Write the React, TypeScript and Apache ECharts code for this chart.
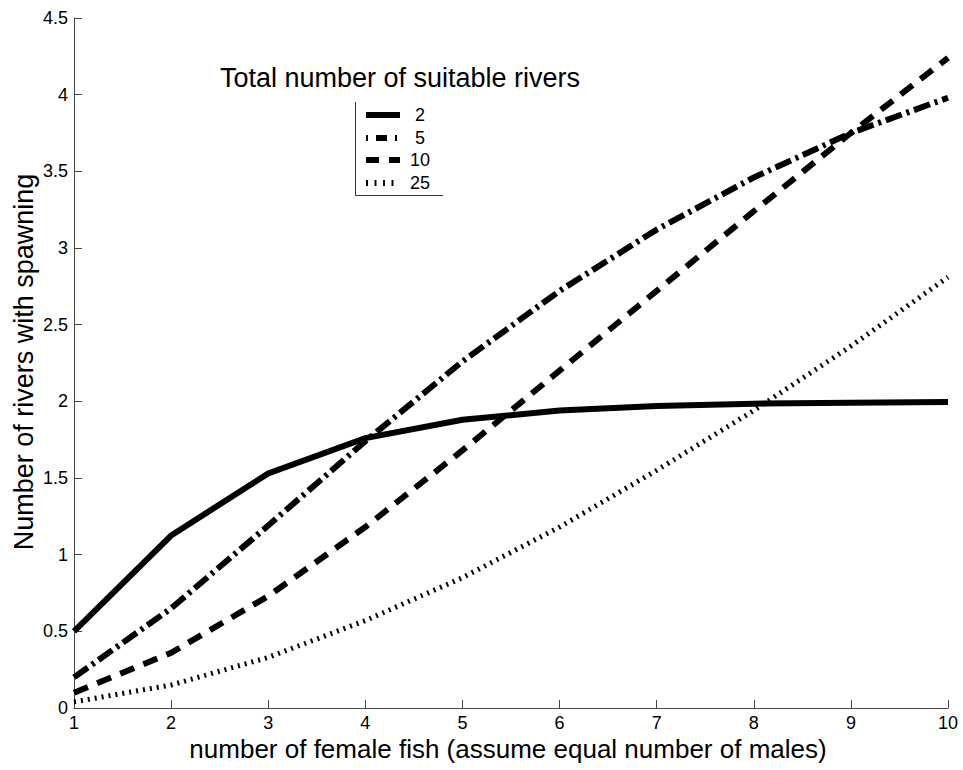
import { useEffect, useRef } from "react";
import * as echarts from "echarts";

const femaleFish = [1, 2, 3, 4, 5, 6, 7, 8, 9, 10];
const rivers2 = [0.5, 1.125, 1.53, 1.76, 1.88, 1.94, 1.97, 1.985, 1.99, 1.995];
const rivers5 = [0.2, 0.65, 1.19, 1.74, 2.26, 2.72, 3.12, 3.46, 3.75, 3.98];
const rivers10 = [0.1, 0.36, 0.73, 1.18, 1.68, 2.2, 2.72, 3.24, 3.75, 4.24];
const rivers25 = [0.04, 0.15, 0.33, 0.57, 0.85, 1.18, 1.55, 1.94, 2.36, 2.81];
const legendLabels = ["2", "5", "10", "25"];
const legendTitle = "Total number of suitable rivers";
const xName = "number of female fish (assume equal number of males)";
const yName = "Number of rivers with spawning";

const FONT = "'Liberation Sans', Arial, Helvetica, sans-serif";

const dashes: (number[] | "solid")[] = ["solid", [17, 5, 3, 5], [15, 10], [2, 5]];
const legendDashes: (number[] | null)[] = [null, [2, 8, 11, 8], [13, 10], [2, 6.5]];

export default function App() {
  const ref = useRef<HTMLDivElement>(null);
  useEffect(() => {
    if (!ref.current) return;
    const chart = echarts.init(ref.current, undefined, { renderer: "svg" });
    const allSeries = [rivers2, rivers5, rivers10, rivers25];
    const legendRowsY = [115, 138, 160, 183];
    const legendGraphics: any[] = [];
    legendGraphics.push({
      type: "text",
      x: 400,
      y: 78,
      style: { text: legendTitle, font: `27px ${FONT}`, fill: "#000", textAlign: "center", textVerticalAlign: "middle" },
    });
    legendGraphics.push({
      type: "polyline",
      shape: { points: [[355.5, 102], [355.5, 195.5], [443, 195.5]] },
      style: { stroke: "#333", lineWidth: 1, fill: null },
    });
    legendLabels.forEach((lab, i) => {
      const ld = legendDashes[i];
      legendGraphics.push({
        type: "line",
        shape: { x1: 366, y1: legendRowsY[i], x2: i === 3 ? 395 : 400, y2: legendRowsY[i] },
        style: { stroke: "#000", lineWidth: 6, lineDash: ld ? ld : null, lineCap: "butt" },
      });
      legendGraphics.push({
        type: "text",
        x: 420,
        y: legendRowsY[i],
        style: { text: lab, font: `18px ${FONT}`, fill: "#000", textAlign: "center", textVerticalAlign: "middle" },
      });
    });
    legendGraphics.push({
      type: "text",
      x: 508,
      y: 749,
      style: { text: xName, font: `26px ${FONT}`, fill: "#000", textAlign: "center", textVerticalAlign: "middle" },
    });
    legendGraphics.push({
      type: "text",
      x: 24,
      y: 362,
      rotation: Math.PI / 2,
      style: { text: yName, font: `27px ${FONT}`, fill: "#000", textAlign: "center", textVerticalAlign: "middle" },
    });

    chart.setOption({
      animation: false,
      backgroundColor: "#fff",
      grid: { left: 74, right: 15, top: 18, bottom: 62, containLabel: false, outerBoundsMode: "none" },
      xAxis: {
        type: "value",
        min: 1,
        max: 10,
        interval: 1,
        splitLine: { show: false },
        axisLine: { show: true, onZero: false, lineStyle: { color: "#444", width: 1 } },
        axisTick: { show: true, inside: true, length: 8, lineStyle: { color: "#444" } },
        axisLabel: { fontSize: 18, fontFamily: FONT, color: "#000", margin: 6, showMinLabel: true, showMaxLabel: true },
      },
      yAxis: {
        type: "value",
        min: 0,
        max: 4.5,
        interval: 0.5,
        splitLine: { show: false },
        axisLine: { show: true, onZero: false, lineStyle: { color: "#444", width: 1 } },
        axisTick: { show: true, inside: true, length: 8, lineStyle: { color: "#444" } },
        axisLabel: { fontSize: 18, fontFamily: FONT, color: "#000", margin: 6, showMinLabel: true, showMaxLabel: true },
      },
      graphic: legendGraphics,
      series: allSeries.map((vals, i) => ({
        type: "line",
        name: legendLabels[i],
        data: femaleFish.map((x, j) => [x, vals[j]]),
        symbol: "none",
        clip: false,
        lineStyle: { color: "#000", width: i === 3 ? 5 : 6, type: dashes[i], cap: "butt", join: "miter" },
      })),
    });
    return () => chart.dispose();
  }, []);
  return <div ref={ref} style={{ position: "absolute", left: 0, top: 0, width: 963, height: 770 }} />;
}
